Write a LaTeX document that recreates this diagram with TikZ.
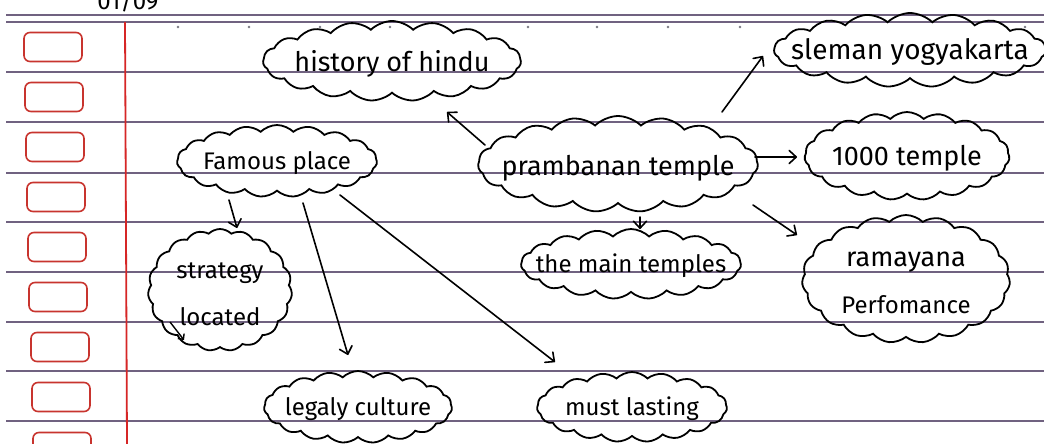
\documentclass[tikz,border=0pt]{standalone}
\usepackage{fontspec}
\setmainfont{Fira Sans}
\usetikzlibrary{shapes.symbols,arrows.meta}
\definecolor{ruleline}{RGB}{112,98,128}
\definecolor{marginred}{RGB}{214,38,38}
\definecolor{boxred}{RGB}{200,52,46}
\definecolor{dotgray}{RGB}{120,120,130}
\newcommand\handfont{\fontsize{24}{47}\selectfont}
\newcommand\bighand{\fontsize{27}{47}\selectfont}
\newcommand\hugehand{\fontsize{28}{47}\selectfont}
\tikzset{
  idea/.style={cloud, cloud puffs=19, cloud puff arc=90, cloud ignores aspect,
    draw=black, line width=1.8pt, inner sep=0pt},
  words/.style={font=\handfont, align=center, inner sep=0pt},
  arr/.style={line width=1.6pt, line cap=round,
    -{Straight Barb[length=7pt,width=13pt,line cap=round,line join=round]}},
  ruled/.style={draw=ruleline, line width=1.1pt},
  tickbox/.style={draw=boxred, line width=1.6pt, rounded corners=6pt,
    minimum width=58pt, minimum height=29pt, inner sep=0pt},
}
\begin{document}
\begin{tikzpicture}[x=1pt,y=-1pt]
  \useasboundingbox (0,0) rectangle (1044,444);
  \clip (0,0) rectangle (1044,444);
  \fill[white] (0,0) rectangle (1044,444);

  % ruled paper
  \foreach \yy in {15,22,72,122,173,222,272,322,371,421}
    \draw[ruled] (6,\yy) -- (1044,\yy);
  \foreach \xx in {178,249,320,390,528,597,668,740,1025}
    \fill[dotgray] (\xx,27) circle (1.3pt);
  \draw[marginred, line width=1.8pt] (125,22) -- (127,444);

  % date at the top, partly cut off
  \node[font=\handfont, anchor=base] (date) at (128,10) {01/09};

  % check boxes in the margin
  \foreach \i/\cx in {0/53,1/54,2/55,3/56,4/57,5/58,6/60,7/61,8/62}
    \node[tickbox] (box\i) at (\cx,47+50*\i) {};

  % idea clouds
  \node[idea, minimum width=258pt, minimum height=80pt]  (hist)  at (392,61)  {};
  \node[idea, minimum width=272pt, minimum height=74pt]  (slem)  at (910,50)  {};
  \node[idea, minimum width=280pt, minimum height=96pt]  (pram)  at (618,164) {};
  \node[idea, minimum width=205pt, minimum height=88pt]  (thou)  at (907,156) {};
  \node[idea, minimum width=200pt, minimum height=72pt]  (fam)   at (277,161) {};
  \node[idea, minimum width=144pt, minimum height=122pt] (strat) at (220,290) {};
  \node[idea, minimum width=188pt, minimum height=72pt]  (leg)   at (358,407) {};
  \node[idea, minimum width=190pt, minimum height=70pt]  (must)  at (632,407) {};
  \node[idea, minimum width=220pt, minimum height=70pt]  (main)  at (631,264) {};
  \node[idea, minimum width=208pt, minimum height=128pt] (rama)  at (906,279) {};

  % cloud texts
  \node[words, font=\bighand]  (histtxt)  at ([yshift=-3pt]hist.center)  {history of hindu};
  \node[words, font=\hugehand] (slemtxt)  at ([yshift=-2pt]slem.center)  {sleman yogyakarta};
  \node[words, font=\bighand]  (pramtxt)  at ([yshift=-4pt]pram.center)  {prambanan temple};
  \node[words, font=\bighand]  (thoutxt)  at ([yshift=-2pt]thou.center)  {1000 temple};
  \node[words]                 (famtxt)   at ([yshift=-2pt]fam.center)   {Famous place};
  \node[words]                 (strattxt) at ([yshift=-4pt]strat.center) {strategy\\located};
  \node[words]                 (legtxt)   at ([yshift=-2pt]leg.center)   {legaly culture};
  \node[words]                 (musttxt)  at ([yshift=-2pt]must.center)  {must lasting};
  \node[words]                 (maintxt)  at ([yshift=-2pt]main.center)  {the main temples};
  \node[words]                 (ramatxt)  at ([yshift=-4pt]rama.center)  {{\bighand ramayana}\\Perfomance};

  % connectors
  \draw[arr] ([shift={(-133,-19)}]pram.center) -- ([shift={(55,51)}]hist.center);
  \draw[arr] ([shift={(104,-52)}]pram.center) -- ([shift={(-147,6)}]slem.center);
  \draw[arr] ([shift={(137,-7)}]pram.center) -- ([shift={(-110,1)}]thou.center);
  \draw[arr] ([shift={(135,41)}]pram.center) -- ([shift={(-109,-44)}]rama.center);
  \draw[arr] ([shift={(22,53)}]pram.center) -- ([shift={(9,-35)}]main.center);
  \draw[arr] ([shift={(-48,39)}]fam.center) -- ([shift={(17,-62)}]strat.center);
  \draw[arr] ([shift={(26,42)}]fam.center) -- ([shift={(-10,-52)}]leg.center);
  \draw[arr] ([shift={(63,34)}]fam.center) -- ([shift={(-77,-45)}]must.center);
  \draw[line width=1.4pt, -{Straight Barb[length=4pt,width=8pt]}]
    ([shift={(-50,32)}]strat.center) -- ([shift={(-36,50)}]strat.center);
\end{tikzpicture}
\end{document}
